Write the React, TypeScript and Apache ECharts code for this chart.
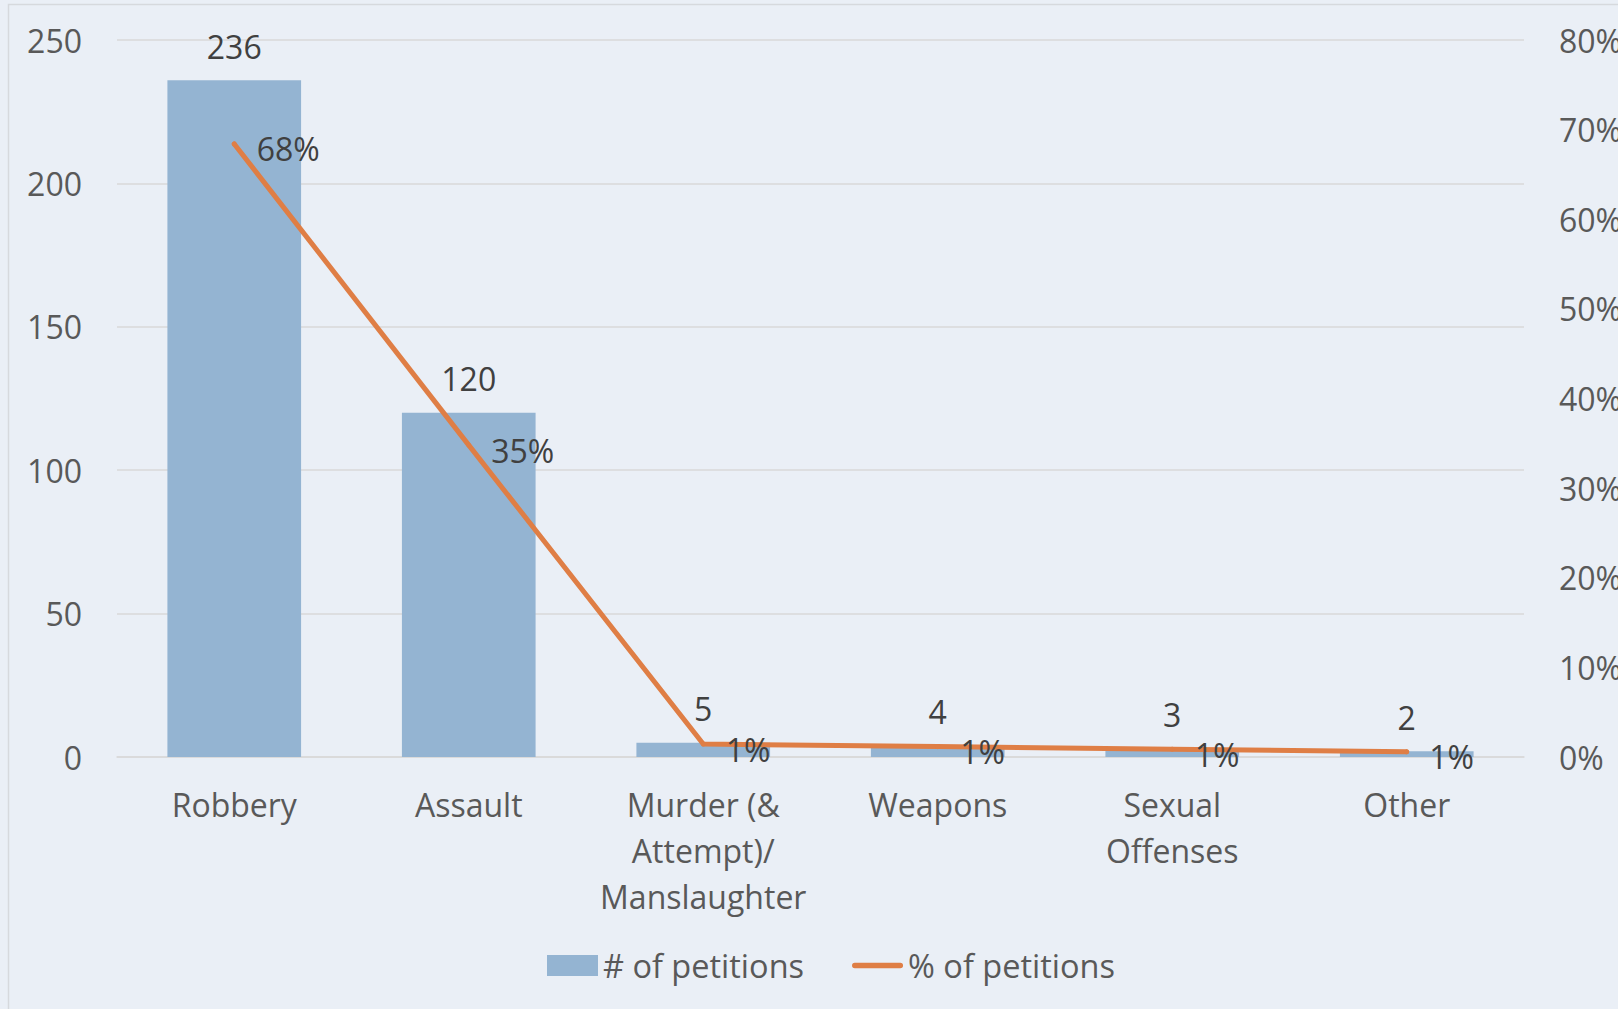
import React, { useEffect, useRef } from "react";
import * as echarts from "echarts";

const categories = ["Robbery", "Assault", "Murder (&\nAttempt)/\nManslaughter", "Weapons", "Sexual\nOffenses", "Other"];
const petitionCounts = [236, 120, 5, 4, 3, 2];
const petitionPercents = [68.4, 34.8, 1.45, 1.16, 0.87, 0.58];
const leftTicks = { min: 0, max: 250, interval: 50 };
const rightTicks = { min: 0, max: 80, interval: 10 };

const FONT = "'Open Sans', 'Noto Sans', sans-serif";
const BAR_COLOR = "#94b4d2";
const LINE_COLOR = "#df7e45";

export default function App() {
  const ref = useRef<HTMLDivElement>(null);
  useEffect(() => {
    if (!ref.current) return;
    const chart = echarts.init(ref.current, undefined, { renderer: "svg" });
    chart.setOption({
      animation: false,
      backgroundColor: "#eaeff6",
      textStyle: { fontFamily: FONT },
      graphic: [
        {
          type: "rect",
          shape: { x: 8.5, y: 4.5, width: 1700, height: 1100 },
          style: { fill: "none", stroke: "#d6d9dd", lineWidth: 1.5 },
          silent: true,
        },
      ],
      grid: { left: 117, right: 94, top: 40, bottom: 252, outerBoundsMode: "none", containLabel: false },
      legend: {
        left: 542,
        top: 944,
        itemWidth: 51,
        itemHeight: 21,
        itemGap: 48,
        textStyle: { fontSize: 32.5, color: "#595959", fontFamily: FONT, lineHeight: 32 },
        data: [
          { name: "# of petitions", icon: "rect" },
          { name: "% of petitions", icon: "path://M3,0H53A3,3 0 0 1 53,6H3A3,3 0 0 1 3,0Z" },
        ],
      },
      xAxis: {
        type: "category",
        data: categories,
        axisLine: { show: true, lineStyle: { color: "#d9d9d9", width: 1.5 } },
        axisTick: { show: false },
        axisLabel: {
          interval: 0,
          fontSize: 32,
          lineHeight: 46,
          color: "#595959",
          margin: 24,
          fontFamily: FONT,
        },
      },
      yAxis: [
        {
          type: "value",
          min: leftTicks.min,
          max: leftTicks.max,
          interval: leftTicks.interval,
          axisLine: { show: false },
          axisTick: { show: false },
          axisLabel: { fontSize: 32, color: "#595959", margin: 35, fontFamily: FONT },
          splitLine: { show: true, lineStyle: { color: "#d9d9d9", width: 1.5 } },
        },
        {
          type: "value",
          min: rightTicks.min,
          max: rightTicks.max,
          interval: rightTicks.interval,
          position: "right",
          axisLine: { show: false },
          axisTick: { show: false },
          splitLine: { show: false },
          axisLabel: { fontSize: 32, color: "#595959", margin: 35, formatter: "{value}%", fontFamily: FONT },
        },
      ],
      series: [
        {
          name: "# of petitions",
          type: "bar",
          data: petitionCounts,
          barWidth: "57%",
          itemStyle: { color: BAR_COLOR },
          label: {
            show: true,
            position: "top",
            distance: 18,
            fontSize: 32,
            color: "#404040",
            fontFamily: FONT,
          },
        },
        {
          name: "% of petitions",
          type: "line",
          yAxisIndex: 1,
          data: petitionPercents,
          symbol: "circle",
          symbolSize: 5,
          itemStyle: { color: LINE_COLOR },
          lineStyle: { color: LINE_COLOR, width: 5, cap: "round", join: "round" },
          label: {
            show: true,
            position: "right",
            distance: 20,
            offset: [0, 5],
            fontSize: 32,
            color: "#404040",
            fontFamily: FONT,
            formatter: (p: any) => Math.round(p.value) + "%",
          },
        },
      ],
    });
    return () => chart.dispose();
  }, []);
  return (
    <div
      ref={ref}
      style={{ position: "absolute", left: 0, top: 0, width: 1618, height: 1009, background: "#eaeff6" }}
    />
  );
}
